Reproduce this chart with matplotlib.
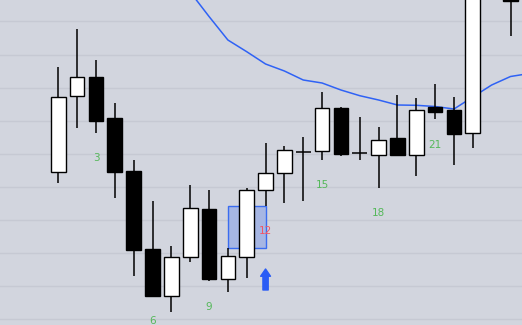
import numpy as np
import matplotlib
matplotlib.use("Agg")
import matplotlib.pyplot as plt
import matplotlib.patches as mpatches

# ─────────────────────────────────────────
# Data (price scale, 1 unit = 1 px)
# ─────────────────────────────────────────
opens  = [153.3, 229.3, 247.7, 207.0, 154.0, 76.0, 29.3, 67.7, 115.7, 45.7, 68.3, 134.7,
          151.7, 173.3, 173.7, 216.7, 171.7, 169.7, 187.0, 169.7, 218.0, 215.0, 191.7, 345.0, 335.0]
highs  = [258.0, 296.0, 265.0, 221.7, 165.0, 124.0, 79.0, 140.0, 135.0, 76.7, 136.7, 181.7,
          179.0, 188.0, 233.0, 217.7, 208.0, 198.0, 230.0, 227.0, 241.0, 228.0, 370.0, 380.0, 345.0]
lows   = [142.3, 197.3, 192.3, 127.3, 49.3, 29.3, 13.3, 63.3, 44.0, 33.3, 46.7, 119.0,
          122.3, 124.3, 165.3, 169.3, 165.3, 137.3, 169.7, 149.3, 205.7, 160.3, 177.3, 328.0, 289.3]
closes = [227.7, 247.7, 204.3, 153.3, 75.3, 29.3, 68.0, 116.7, 45.7, 68.7, 134.7, 151.7,
          174.7, 173.3, 216.7, 171.3, 171.7, 184.7, 169.7, 215.0, 212.7, 191.3, 360.0, 362.0, 323.7]

ma_idx  = list(range(7, 26))
ma_vals = [333.0, 308.5, 285.0, 273.3, 261.0, 254.0, 245.0, 242.0, 235.0, 229.3,
           225.0, 220.0, 219.7, 218.5, 216.0, 228.0, 240.0, 248.5, 251.5]

label_idx    = [2, 5, 8, 11, 14, 17, 20, 23]
label_text   = ["3", "6", "9", "12", "15", "18", "21", "24"]
label_colors = ["#55b85a", "#55b85a", "#55b85a", "#f25565",
                "#55b85a", "#55b85a", "#55b85a", "#f25565"]

gap_left, gap_right = 9, 11     # blue box: from high of bar 9 to low of bar 11
arrow_idx = 11

BG = "#d2d5de"
GRID = "#c6c9d3"

fig = plt.figure(figsize=(5.22, 3.25), dpi=100)
fig.patch.set_facecolor(BG)
ax = fig.add_axes([0, 0, 1, 1])
ax.set_facecolor(BG)

# grid lines
for gy in np.arange(5.7, 325, 33.1):
    ax.axhline(gy, color=GRID, lw=1.0, zorder=0)

# moving average (behind candles)
ax.plot(ma_idx, ma_vals, color="#2f62f5", lw=1.1, zorder=1)

# gap box
box = mpatches.Rectangle((gap_left, highs[gap_left]), gap_right - gap_left,
                         lows[gap_right] - highs[gap_left],
                         facecolor="#a6b6e3", edgecolor="#3a6cf0", lw=1.0, zorder=2)
ax.add_patch(box)

# candles
bw = 0.78
for i, (o, h, l, c) in enumerate(zip(opens, highs, lows, closes)):
    ax.vlines(i, l, h, color="black", lw=1.1, zorder=3)
    bot, top = min(o, c), max(o, c)
    if top - bot < 0.5:
        ax.hlines(o, i - bw / 2, i + bw / 2, color="black", lw=1.1, zorder=4)
        continue
    fc = "white" if c > o else "black"
    ax.add_patch(mpatches.Rectangle((i - bw / 2, bot), bw, top - bot,
                                    facecolor=fc, edgecolor="black", lw=1.0, zorder=4))

# bar-count labels below lows
for i, t, col in zip(label_idx, label_text, label_colors):
    ax.annotate(t, (i, lows[i]), xytext=(0, -25.5), textcoords="offset pixels",
                ha="center", va="center", color=col, fontsize=7.5, zorder=5)

# up arrow
ax.annotate("", xy=(arrow_idx, 56), xytext=(arrow_idx, 35),
            arrowprops=dict(arrowstyle="simple,head_length=0.55,head_width=0.75,tail_width=0.4",
                            color="#2a5cf5", shrinkA=0, shrinkB=0, mutation_scale=9.5),
            zorder=5)

ax.set_xlim(-3.094, 24.61)
ax.set_ylim(0, 325)
ax.axis("off")

plt.savefig("out.png", dpi=100, facecolor=BG)
plt.close()
